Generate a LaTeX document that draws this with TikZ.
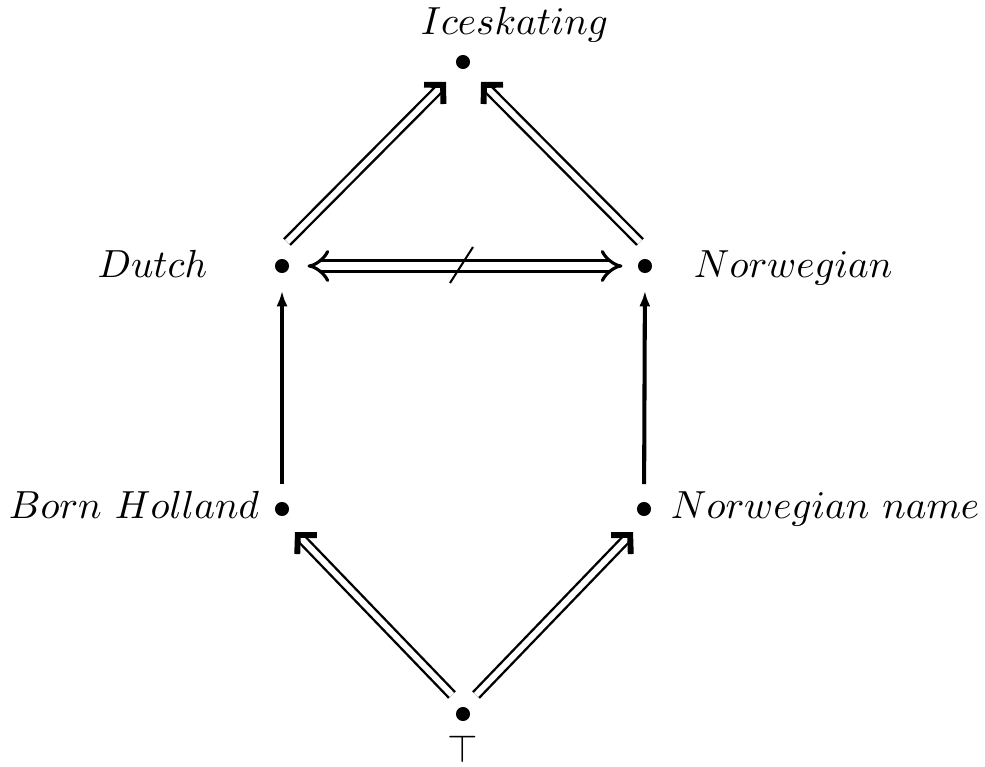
\documentclass[tikz,border=0pt]{standalone}
\usetikzlibrary{arrows.meta,calc}

\begin{document}
\begin{tikzpicture}[x=0.0095cm, y=-0.0095cm,
    dot/.style={circle, fill=black, inner sep=0pt, minimum size=3.8pt},
    lbl/.style={inner sep=0pt, scale=1.06},
    dbl/.style={double, double distance=1.6pt, line width=0.65pt,
        -{Straight Barb[length=3.6pt, width=7.4pt, line width'=1.6pt]}},
    iff/.style={double, double distance=2.1pt, line width=0.85pt,
        {Implies[scale=1.3]}-{Implies[scale=1.3]}},
    up/.style={line width=1.1pt, -{Latex[length=4.2pt, width=3pt]}}]
    \useasboundingbox (0,0) rectangle (985,766);

    % 1. Points of the lattice
    \node[dot] (ice)   at (463,62)  {};
    \node[dot] (dutch) at (282,266) {};
    \node[dot] (norw)  at (645,266) {};
    \node[dot] (born)  at (282,509) {};
    \node[dot] (nname) at (644,509) {};
    \node[dot] (top)   at (463,714) {};

    % 2. Labels
    \node[lbl, anchor=base west] (icelbl)   at (420,35)  {$Iceskating$};
    \node[lbl, anchor=base east] (dutchlbl) at (208,277) {$Dutch$};
    \node[lbl, anchor=base west] (norwlbl)  at (693,277) {$Norwegian$};
    \node[lbl, anchor=base east] (bornlbl)  at (260,518) {$Born\ Holland$};
    \node[lbl, anchor=base west] (nnamelbl) at (670,518) {$Norwegian\ name$};
    \node[lbl, anchor=base]      (toplbl)   at (463,762) {$\top$};

    % 3. Double arrows up the diagonals
    \draw[dbl] ($(dutch)+(5,-24)$) -- ($(ice)+(-17,20)$);
    \draw[dbl] ($(norw)+(-5,-24)$) -- ($(ice)+(18,20)$);
    \draw[dbl] ($(top)+(-11,-19)$) -- ($(born)+(13,23)$);
    \draw[dbl] ($(top)+(13,-19)$) -- ($(nname)+(-11,23)$);

    % 4. Single arrows up the sides
    \draw[up, shorten <=4.6pt, shorten >=4.6pt] (born) -- (dutch);
    \draw[up, shorten <=4.6pt, shorten >=4.6pt] (nname) -- (norw);

    % 5. Crossed equivalence between Dutch and Norwegian
    \draw[iff, shorten <=4.8pt, shorten >=4pt] (dutch) -- coordinate[midway] (mid) (norw);
    \draw[line width=0.55pt] ($(mid)+(9.5,-19)$) -- ($(mid)+(-13.5,17)$);

\end{tikzpicture}
\end{document}
